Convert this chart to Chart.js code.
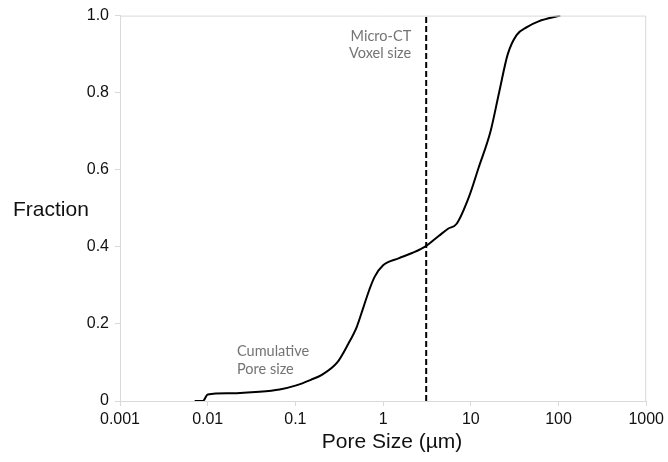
<!DOCTYPE html>
<html>
<head>
<meta charset="utf-8">
<script src="https://cdn.jsdelivr.net/npm/chart.js@4"></script>
<style>
  html, body { margin: 0; padding: 0; background: #fff; }
  #wrap { width: 668px; height: 462px; }
</style>
</head>
<body>
<div id="wrap"><canvas id="chart" width="668" height="462"></canvas></div>
<script>
// cumulative pore size curve
const poreSize = [0.0071, 0.0088, 0.0100, 0.0178, 0.039, 0.066, 0.1, 0.15, 0.2, 0.3, 0.4, 0.5, 0.6, 0.7, 0.8, 1.0, 1.5, 2.14, 3.08, 4.3, 5.5, 6.9, 9.5, 12.3, 16.8, 21.0, 26.4, 33.4, 43.6, 59.3, 105]
const fraction = [0, 0, 0.017, 0.02, 0.024, 0.030, 0.040, 0.055, 0.068, 0.10, 0.148, 0.192, 0.245, 0.29, 0.322, 0.352, 0.37, 0.384, 0.402, 0.428, 0.447, 0.46, 0.529, 0.606, 0.70, 0.80, 0.90, 0.95, 0.97, 0.985, 1.0]

// micro-CT voxel size marker
const voxelSize = 3.1

const xTickValues = [0.001, 0.01, 0.1, 1, 10, 100, 1000]
const xTickLabels = ['0.001', '0.01', '0.1', '1', '10', '100', '1000']
const yTickValues = [0, 0.2, 0.4, 0.6, 0.8, 1.0]
const yTickLabels = ['0', '0.2', '0.4', '0.6', '0.8', '1.0']

const axisColor = '#d9d9d9'
const tickFont = { family: 'Liberation Sans, Arial, sans-serif', size: 16 }

// 标题和注释
const decorPlugin = {
  id: 'decor',
  afterDraw: (chart) => {
    const { ctx, chartArea, scales } = chart
    ctx.save()
    // top/right frame
    ctx.strokeStyle = axisColor
    ctx.lineWidth = 1
    ctx.beginPath()
    ctx.moveTo(chartArea.left, chartArea.top + 0.5)
    ctx.lineTo(chartArea.right - 0.5, chartArea.top + 0.5)
    ctx.lineTo(chartArea.right - 0.5, chartArea.bottom)
    ctx.stroke()

    ctx.fillStyle = '#111'
    ctx.font = '21px "Liberation Sans", Arial, sans-serif'
    ctx.textBaseline = 'middle'
    ctx.textAlign = 'left'
    ctx.fillText('Fraction', 13, 210)
    ctx.textAlign = 'center'
    ctx.fillText('Pore Size (\u00b5m)', 392, 442)

    ctx.fillStyle = '#747474'
    ctx.font = '14.5px Lato, "Open Sans", sans-serif'
    ctx.textBaseline = 'alphabetic'
    ctx.textAlign = 'right'
    const xv = scales.x.getPixelForValue(voxelSize)
    ctx.fillText('Micro-CT', xv - 15, 41)
    ctx.fillText('Voxel size', xv - 15, 58)
    ctx.textAlign = 'left'
    ctx.fillText('Cumulative', 237, 356)
    ctx.fillText('Pore size', 237, 374)
    ctx.restore()
  }
}

new Chart(document.getElementById('chart').getContext('2d'), {
  type: 'line',
  data: {
    datasets: [
      {
        data: poreSize.map((x, i) => ({ x, y: fraction[i] })),
        borderColor: '#000',
        borderWidth: 2,
        pointRadius: 0,
        cubicInterpolationMode: 'monotone',
        fill: false
      },
      {
        data: [{ x: voxelSize, y: 0 }, { x: voxelSize, y: 1 }],
        borderColor: '#000',
        borderWidth: 2,
        borderDash: [6, 3],
        pointRadius: 0,
        fill: false
      }
    ]
  },
  options: {
    responsive: false,
    animation: false,
    layout: { padding: { top: 13, right: 20, bottom: 0, left: 0 } },
    plugins: {
      legend: { display: false },
      tooltip: { enabled: false }
    },
    scales: {
      x: {
        type: 'logarithmic',
        min: 0.001,
        max: 1000,
        afterBuildTicks: scale => { scale.ticks = xTickValues.map(value => ({ value })) },
        afterFit: scale => { scale.height = 61 },
        ticks: {
          callback: (v, i) => xTickLabels[i],
          color: '#111',
          font: tickFont,
          padding: 4,
          maxRotation: 0,
          autoSkip: false
        },
        grid: { drawOnChartArea: false, tickLength: 5, color: axisColor },
        border: { color: axisColor }
      },
      y: {
        min: 0,
        max: 1,
        afterBuildTicks: scale => { scale.ticks = yTickValues.map(value => ({ value })) },
        afterFit: scale => { scale.width = 120 },
        ticks: {
          callback: (v, i) => yTickLabels[i],
          color: '#111',
          font: tickFont,
          padding: 6
        },
        grid: { drawOnChartArea: false, tickLength: 5, color: axisColor },
        border: { color: axisColor }
      }
    }
  },
  plugins: [decorPlugin]
})
</script>
</body>
</html>
